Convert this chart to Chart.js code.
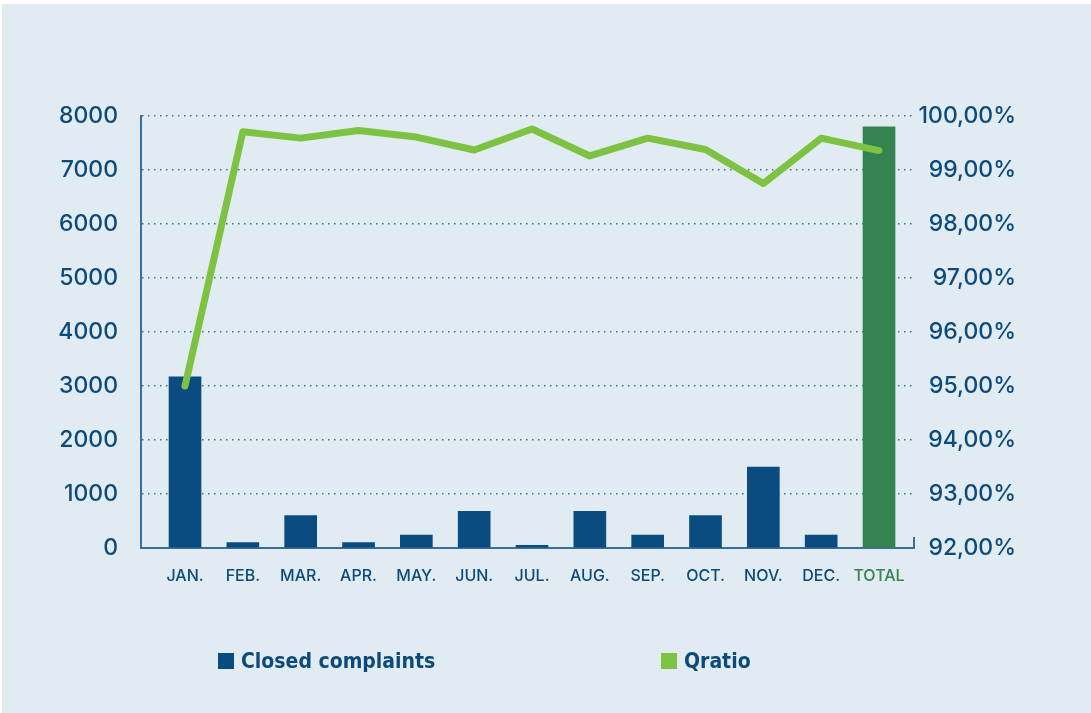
<!DOCTYPE html>
<html>
<head>
<meta charset="utf-8">
<script src="https://cdn.jsdelivr.net/npm/chart.js@4/dist/chart.umd.min.js"></script>
<style>
  body { margin: 0; background: #fff; }
  #wrap { position: relative; width: 1091px; height: 713px; overflow: hidden; }
  #bg { position: absolute; left: 2px; top: 4px; right: 0; bottom: 0; background: #e0ecf2; }
  #chart { position: absolute; left: 0; top: 0; }
  .legend-item { position: absolute; top: 649px; display: flex; align-items: center;
    font-family: "DejaVu Sans Condensed", "DejaVu Sans", sans-serif; font-stretch: condensed;
    font-weight: bold; font-size: 21px; color: #0d4a7a; }
  .legend-item span.box { width: 16px; height: 16px; margin-right: 7px; display: inline-block; }
</style>
</head>
<body>
<div id="wrap">
  <div id="bg"></div>
  <canvas id="chart" width="1091" height="713"></canvas>
  <div id="legend"></div>
</div>
<script>
const months = ['JAN.', 'FEB.', 'MAR.', 'APR.', 'MAY.', 'JUN.', 'JUL.', 'AUG.', 'SEP.', 'OCT.', 'NOV.', 'DEC.', 'TOTAL'];
const closedComplaints = [3170, 100, 600, 100, 240, 680, 50, 680, 240, 600, 1500, 240, 7800];
const qratio = [95.0, 99.71, 99.59, 99.73, 99.61, 99.37, 99.76, 99.26, 99.59, 99.38, 98.75, 99.59, 99.36];
const leftTicks = [0, 1000, 2000, 3000, 4000, 5000, 6000, 7000, 8000];
const rightTicks = [92, 93, 94, 95, 96, 97, 98, 99, 100];

const blue = '#0a4c80';
const green = '#35834f';
const lime = '#7dc242';
const textBlue = '#0d4a7a';
const axisBlue = '#3a6f9c';

const barColors = months.map((m, i) => i === months.length - 1 ? green : blue);

// little tick at the bottom of the right side
const cornerTick = {
    id: 'cornerTick',
    afterDraw(chart) {
        const a = chart.chartArea;
        const c = chart.ctx;
        c.save();
        c.strokeStyle = axisBlue;
        c.lineWidth = 2;
        c.beginPath();
        c.moveTo(a.right, a.bottom - 11);
        c.lineTo(a.right, a.bottom + 1);
        c.stroke();
        c.restore();
    }
};

const tickFont = { family: 'Inter', size: 23, weight: 500 };

const chart = new Chart(document.getElementById('chart'), {
    data: {
        datasets: [{
            type: 'line',
            label: 'Qratio',
            data: qratio.map((v, i) => ({ x: i, y: v })),
            yAxisID: 'y1',
            borderColor: lime,
            backgroundColor: lime,
            borderWidth: 7,
            pointRadius: 0,
            borderCapStyle: 'round',
            borderJoinStyle: 'round',
            tension: 0,
            order: 0
        }, {
            type: 'bar',
            label: 'Closed complaints',
            data: closedComplaints.map((v, i) => ({ x: i, y: v })),
            yAxisID: 'y',
            backgroundColor: barColors,
            barThickness: 32,
            order: 1
        }]
    },
    options: {
        responsive: false,
        animation: false,
        layout: { padding: { top: 116, right: 75, bottom: 0, left: 0 } },
        plugins: { legend: { display: false }, tooltip: { enabled: false } },
        scales: {
            x: {
                type: 'linear',
                offset: false,
                min: -0.761,
                max: 12.605,
                afterBuildTicks: s => { s.ticks = months.map((m, i) => ({ value: i })); },
                afterFit: s => { s.height = 165; },
                grid: { display: false, drawTicks: false, offset: false },
                border: { display: true, color: axisBlue, width: 2 },
                ticks: {
                    autoSkip: false,
                    maxRotation: 0,
                    padding: 19,
                    font: { family: 'Inter', size: 16, weight: 500 },
                    color: c => c.tick && c.tick.value === months.length - 1 ? green : textBlue,
                    callback: v => months[v]
                }
            },
            y: {
                position: 'left',
                min: 0,
                max: 8000,
                afterBuildTicks: s => { s.ticks = leftTicks.map(v => ({ value: v })); },
                afterFit: s => { s.width = 141; },
                grid: { color: axisBlue, lineWidth: 1.5, drawTicks: false },
                border: { display: true, color: axisBlue, width: 2, dash: [1.5, 4.5] },
                ticks: { padding: 23, font: tickFont, color: textBlue, callback: v => String(v) }
            },
            y1: {
                position: 'right',
                min: 92,
                max: 100,
                afterBuildTicks: s => { s.ticks = rightTicks.map(v => ({ value: v })); },
                afterFit: s => { s.width = 102; },
                grid: { display: false, drawTicks: false },
                border: { display: false },
                ticks: {
                    crossAlign: 'far',
                    font: tickFont,
                    color: textBlue,
                    callback: v => v.toFixed(2).replace('.', ',') + '%'
                }
            }
        }
    },
    plugins: [cornerTick]
});

// legend, built from the datasets
const legend = document.getElementById('legend');
const legendX = { 'Closed complaints': 218, 'Qratio': 661 };
chart.data.datasets.slice().reverse().forEach(ds => {
    const item = document.createElement('div');
    item.className = 'legend-item';
    item.style.left = legendX[ds.label] + 'px';
    const box = document.createElement('span');
    box.className = 'box';
    box.style.background = ds.type === 'bar' ? blue : lime;
    const txt = document.createElement('span');
    txt.textContent = ds.label;
    item.appendChild(box);
    item.appendChild(txt);
    legend.appendChild(item);
});
</script>
</body>
</html>
